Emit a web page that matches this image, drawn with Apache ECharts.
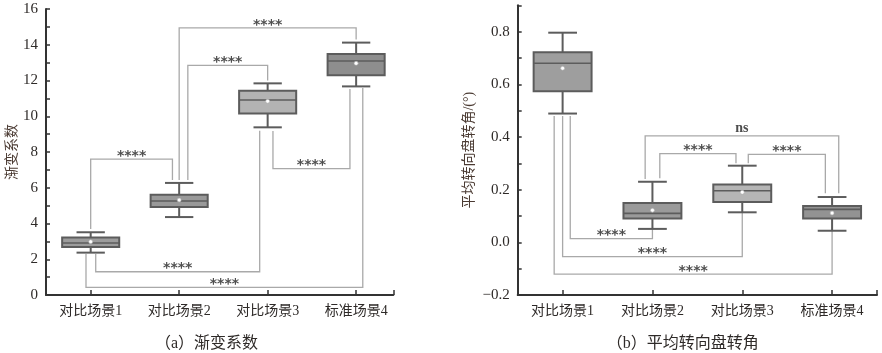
<!DOCTYPE html>
<html>
<head>
<meta charset="utf-8">
<script src="https://cdn.jsdelivr.net/npm/echarts@6/dist/echarts.min.js"></script>
<style>
  html, body { margin: 0; padding: 0; background: #fff; }
  #chart { width: 882px; height: 353px; }
</style>
</head>
<body>
<div id="chart"></div>
<script>
const categories = ['对比场景1', '对比场景2', '对比场景3', '标准场景4']

// [low whisker, Q1, median, Q3, high whisker]
const gradBoxes = [
  [2.37, 2.69, 2.91, 3.21, 3.51],
  [4.36, 4.92, 5.26, 5.61, 6.27],
  [9.38, 10.16, 10.91, 11.43, 11.84],
  [11.67, 12.29, 13.09, 13.48, 14.12]
]
const gradMeans = [2.98, 5.31, 10.84, 12.96]

const steerBoxes = [
  [0.489, 0.574, 0.680, 0.722, 0.796],
  [0.051, 0.090, 0.110, 0.149, 0.230],
  [0.114, 0.153, 0.196, 0.220, 0.291],
  [0.044, 0.090, 0.125, 0.138, 0.172]
]
const steerMeans = [0.661, 0.122, 0.190, 0.111]

// significance brackets: [x left, x right, bar level, left end, right end]
const gradBrackets = [
  [1, 1.924, 7.6, 3.69, 6.43],
  [2.098, 3, 12.85, 6.43, 12.0],
  [2, 4, 14.94, 6.43, 14.3],
  [3.06, 3.93, 7.07, 9.17, 11.52],
  [1.057, 2.91, 1.30, 2.29, 9.19],
  [0.947, 4.075, 0.43, 2.29, 11.58]
]
const gradBracketLabels = ['****', '****', '****', '****', '****', '****']

const steerBrackets = [
  [1.085, 2, 0.0138, 0.48, 0.051],
  [1, 3, -0.0545, 0.48, 0.114],
  [0.906, 4, -0.121, 0.48, 0.044],
  [2.082, 2.93, 0.337, 0.243, 0.30],
  [3.067, 3.925, 0.334, 0.30, 0.186],
  [1.919, 4.074, 0.404, 0.24, 0.186]
]
const steerBracketLabels = ['****', '****', '****', '****', '****', 'ns']

const gradYLabels = [0, 2, 4, 6, 8, 10, 12, 14, 16]
const gradYTicks = [0, 1, 2, 3, 4, 5, 6, 7, 8, 9, 10, 11, 12, 13, 14, 15, 16]
const steerYLabels = [-0.2, 0, 0.2, 0.4, 0.6, 0.8]
const steerYTicks = [-0.2, -0.1, 0, 0.1, 0.2, 0.3, 0.4, 0.5, 0.6, 0.7, 0.8, 0.9]

const gradFill = ['#9c9c9c', '#999999', '#b3b3b3', '#8e8e8e']
const steerFill = ['#9e9e9e', '#9a9a9a', '#b5b5b5', '#939393']

const FONT = '"Liberation Serif", "Noto Sans CJK SC", serif'
const TEXT = '#2e2a28'
const EDGE = '#5c5c5c'

function boxRender(fills) {
  return function (params, api) {
    const x = api.value(0)
    const lo = api.coord([x, api.value(1)])
    const q1 = api.coord([x, api.value(2)])
    const med = api.coord([x, api.value(3)])
    const q3 = api.coord([x, api.value(4)])
    const hi = api.coord([x, api.value(5)])
    const mean = api.coord([x, api.value(6)])
    const bw = api.size([0.645, 0])[0]
    const cw = api.size([0.32, 0])[0]
    const cx = lo[0]
    const ln = { stroke: EDGE, lineWidth: 2 }
    return {
      type: 'group',
      children: [
        { type: 'line', shape: { x1: cx, y1: hi[1], x2: cx, y2: q3[1] }, style: ln },
        { type: 'line', shape: { x1: cx, y1: q1[1], x2: cx, y2: lo[1] }, style: ln },
        { type: 'line', shape: { x1: cx - cw / 2, y1: hi[1], x2: cx + cw / 2, y2: hi[1] }, style: ln },
        { type: 'line', shape: { x1: cx - cw / 2, y1: lo[1], x2: cx + cw / 2, y2: lo[1] }, style: ln },
        {
          type: 'rect',
          shape: { x: cx - bw / 2, y: q3[1], width: bw, height: q1[1] - q3[1] },
          style: { fill: fills[params.dataIndex], stroke: EDGE, lineWidth: 2 }
        },
        { type: 'line', shape: { x1: cx - bw / 2, y1: med[1], x2: cx + bw / 2, y2: med[1] }, style: { stroke: EDGE, lineWidth: 1.6 } },
        { type: 'circle', shape: { cx: cx, cy: mean[1], r: 2 }, style: { fill: '#fff', stroke: '#aaa', lineWidth: 0.6 } }
      ]
    }
  }
}

function bracketRender(labels) {
  return function (params, api) {
    const xl = api.value(0), xr = api.value(1), lvl = api.value(2)
    const a = api.coord([xl, api.value(3)])
    const b = api.coord([xl, lvl])
    const c = api.coord([xr, lvl])
    const d = api.coord([xr, api.value(4)])
    const lbl = labels[params.dataIndex]
    const star = lbl.indexOf('*') >= 0
    return {
      type: 'group',
      children: [
        {
          type: 'polyline',
          shape: { points: [a, b, c, d] },
          style: { stroke: '#a9a9a9', lineWidth: 1.3, fill: null }
        },
        {
          type: 'text',
          style: {
            x: (b[0] + c[0]) / 2,
            y: star ? b[1] + 4 : b[1] - 1,
            text: lbl,
            align: 'center',
            verticalAlign: 'bottom',
            font: star ? 'bold 14px "DejaVu Sans"' : 'bold 14px ' + FONT,
            fill: '#4e4e4e'
          }
        }
      ]
    }
  }
}

function xAxisFor(gridIndex, min, max) {
  return {
    type: 'value',
    gridIndex: gridIndex,
    min: min,
    max: max,
    splitLine: { show: false },
    axisLine: { show: true, onZero: false, lineStyle: { color: '#333', width: 2 } },
    axisTick: { inside: true, length: 5, customValues: [1, 2, 3, 4, max], lineStyle: { color: '#333', width: 1.5 } },
    axisLabel: {
      customValues: [1, 2, 3, 4],
      formatter: v => categories[Math.round(v) - 1],
      margin: 9,
      fontFamily: FONT,
      fontSize: 14,
      color: TEXT
    }
  }
}

function yAxisFor(gridIndex, min, max, labels, ticks, name, gap, fmt) {
  return {
    type: 'value',
    gridIndex: gridIndex,
    min: min,
    max: max,
    name: name,
    nameLocation: 'middle',
    nameGap: gap,
    nameTextStyle: { fontFamily: FONT, fontSize: 14, color: '#4a3a32' },
    splitLine: { show: false },
    axisLine: { show: true, onZero: false, lineStyle: { color: '#333', width: 2 } },
    axisTick: { inside: true, length: 4, customValues: ticks, lineStyle: { color: '#333', width: 1.5 } },
    axisLabel: {
      customValues: labels,
      formatter: fmt,
      margin: 8,
      fontFamily: FONT,
      fontSize: 15,
      color: TEXT
    }
  }
}

const chart = echarts.init(document.getElementById('chart'), null, { renderer: 'canvas' })

chart.setOption({
  animation: false,
  grid: [
    { left: 46, right: 488.7, top: 9, bottom: 58 },
    { left: 517.7, right: 5, top: 5.3, bottom: 58 }
  ],
  title: [
    {
      text: '（a）渐变系数',
      left: 201.5, top: 331, textAlign: 'center',
      textStyle: { fontFamily: FONT, fontSize: 16, fontWeight: 'normal', color: TEXT }
    },
    {
      text: '（b）平均转向盘转角',
      left: 677.7, top: 331, textAlign: 'center',
      textStyle: { fontFamily: FONT, fontSize: 16, fontWeight: 'normal', color: TEXT }
    }
  ],
  xAxis: [
    xAxisFor(0, 0.495, 4.42),
    xAxisFor(1, 0.5, 4.5)
  ],
  yAxis: [
    yAxisFor(0, 0, 16, gradYLabels, gradYTicks, '渐变系数', 26, v => String(v)),
    yAxisFor(1, -0.2, 0.9, steerYLabels, steerYTicks, '平均转向盘转角/(°)', 41,
      v => (v < 0 ? '\u2212' : '') + Math.abs(v).toFixed(1))
  ],
  series: [
    {
      type: 'custom',
      xAxisIndex: 0, yAxisIndex: 0,
      renderItem: bracketRender(gradBracketLabels),
      encode: { x: [0, 1], y: [2, 3, 4] },
      data: gradBrackets,
      z: 1
    },
    {
      type: 'custom',
      xAxisIndex: 0, yAxisIndex: 0,
      renderItem: boxRender(gradFill),
      encode: { x: 0, y: [1, 2, 3, 4, 5] },
      data: gradBoxes.map((b, i) => [i + 1, ...b, gradMeans[i]]),
      z: 2
    },
    {
      type: 'custom',
      xAxisIndex: 1, yAxisIndex: 1,
      renderItem: boxRender(steerFill),
      encode: { x: 0, y: [1, 2, 3, 4, 5] },
      data: steerBoxes.map((b, i) => [i + 1, ...b, steerMeans[i]]),
      z: 2
    },
    {
      type: 'custom',
      xAxisIndex: 1, yAxisIndex: 1,
      renderItem: bracketRender(steerBracketLabels),
      encode: { x: [0, 1], y: [2, 3, 4] },
      data: steerBrackets,
      z: 1
    }
  ]
})
</script>
</body>
</html>
